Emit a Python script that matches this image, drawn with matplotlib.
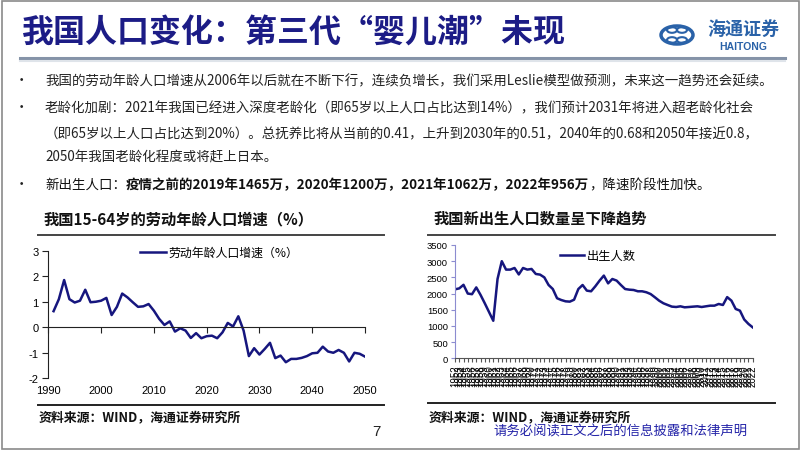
import numpy as np
import matplotlib
matplotlib.use("Agg")
import matplotlib.pyplot as plt
from matplotlib.patches import Rectangle, Circle
from matplotlib.lines import Line2D

plt.rcParams['font.family'] = ['Noto Sans CJK SC', 'DejaVu Sans']
plt.rcParams['axes.unicode_minus'] = False

# ---- data ----
# working-age (15-64) population growth, %
labor_years = list(range(1991, 2051))
labor_growth = [0.63, 1.10, 1.85, 1.10, 0.97, 1.04, 1.47, 0.98, 1.00, 1.04,
                1.15, 0.48, 0.80, 1.32, 1.17, 0.98, 0.80, 0.82, 0.91, 0.65,
                0.33, 0.09, 0.23, -0.17, -0.04, -0.13, -0.42, -0.23, -0.43, -0.35,
                -0.33, -0.43, -0.20, 0.17, 0.03, 0.43, -0.13, -1.13, -0.82, -1.07,
                -0.85, -0.61, -1.21, -1.11, -1.37, -1.24, -1.24, -1.20, -1.13, -1.02,
                -1.00, -0.76, -0.95, -1.00, -0.89, -1.00, -1.34, -1.00, -1.04, -1.15]

# births, 10k persons
birth_years = list(range(1952, 2023))
births = [2130, 2160, 2270, 2000, 1980, 2190, 1960, 1700, 1430, 1160,
          2450, 3000, 2740, 2740, 2790, 2590, 2790, 2740, 2760, 2605,
          2585, 2500, 2265, 2140, 1855, 1800, 1760, 1750, 1810, 2140,
          2265, 2090, 2070, 2225, 2400, 2555, 2315, 2450, 2400, 2265,
          2140, 2120, 2110, 2070, 2070, 2040, 1985, 1885, 1780, 1700,
          1647, 1596, 1585, 1606, 1575, 1585, 1596, 1606, 1585, 1606,
          1626, 1626, 1678, 1647, 1890, 1781, 1524, 1472, 1200, 1062, 956]

title = '我国人口变化：第三代“婴儿潮”未现'
bullets = [
    ['我国的劳动年龄人口增速从2006年以后就在不断下行，连续负增长，我们采用Leslie模型做预测，未来这一趋势还会延续。'],
    ['老龄化加剧：2021年我国已经进入深度老龄化（即65岁以上人口占比达到14%），我们预计2031年将进入超老龄化社会',
     '（即65岁以上人口占比达到20%）。总抚养比将从当前的0.41，上升到2030年的0.51，2040年的0.68和2050年接近0.8，',
     '2050年我国老龄化程度或将赶上日本。'],
]
bullet3 = [('新出生人口：', 'normal'),
           ('疫情之前的2019年1465万，2020年1200万，2021年1062万，2022年956万', 'bold'),
           ('，降速阶段性加快。', 'normal')]

W, H = 802, 452
NAVY = '#16167e'
TITLE_BLUE = '#1c1c86'


def fx(x):
    return x / W


def fy(y):
    return 1 - y / H


fig = plt.figure(figsize=(W / 100, H / 100), dpi=100)
fig.patch.set_facecolor('white')

# slide frame
fig.add_artist(Rectangle((fx(1.5), fy(449.5)), fx(797), (447.5) / H, transform=fig.transFigure,
                         fill=False, edgecolor='#8a8a8a', lw=1.2))

# title + header rule
fig.text(fx(22), fy(34), title, fontsize=23, fontweight='bold', color=TITLE_BLUE, va='center')
fig.add_artist(Line2D([fx(20), fx(785)], [fy(59), fy(59)], color='#8593a8', lw=2.2))
fig.add_artist(Line2D([fx(20), fx(785)], [fy(61.5), fy(61.5)], color='#dfe4ea', lw=1.5))

# logo
logo_c = '#2a62a8'
fig.add_artist(Circle((fx(677), fy(36)), 16 / W, transform=fig.transFigure, fill=False,
                      edgecolor=logo_c, lw=2.5))
for dx, dy in [(-5, -5), (5, -5), (-5, 5), (5, 5)]:
    fig.add_artist(Circle((fx(677 + dx), fy(36 + dy)), 5 / W, transform=fig.transFigure,
                          fill=False, edgecolor=logo_c, lw=1.5))
fig.text(fx(743), fy(29), '海通证券', fontsize=13, color=logo_c, ha='center', va='center',
         fontweight='bold', style='italic')
fig.text(fx(743), fy(47), 'HAITONG', fontsize=7.5, color=logo_c, ha='center', va='center',
         fontweight='bold', family=['Liberation Sans'])

# bullets
body_fs = 9.7
line_ys = [[81], [108, 134, 158]]
for lines, ys in zip(bullets, line_ys):
    fig.text(fx(15), fy(ys[0]), '•', fontsize=body_fs, va='center', color='#222222')
    for txt, y in zip(lines, ys):
        fig.text(fx(45), fy(y), txt, fontsize=body_fs, va='center', color='#222222')

renderer = fig.canvas.get_renderer()
fig.text(fx(15), fy(185), '•', fontsize=body_fs, va='center', color='#222222')
xpos = 45
for seg, wt in bullet3:
    t = fig.text(fx(xpos), fy(185), seg, fontsize=body_fs, va='center', color='#111111', fontweight=wt)
    xpos += t.get_window_extent(renderer).width

# chart titles, rules, source notes
for x0, x1, ttl in [(38, 384, '我国15-64岁的劳动年龄人口增速（%）'), (428, 775, '我国新出生人口数量呈下降趋势')]:
    fig.text(fx(x0 + 6), fy(219), ttl, fontsize=11, fontweight='bold', va='center', color='#111111')
    fig.add_artist(Line2D([fx(x0), fx(x1)], [fy(236), fy(236)], color='#444444', lw=1.4))
fig.add_artist(Line2D([fx(38), fx(384)], [fy(406), fy(406)], color='#222222', lw=1.4))
fig.add_artist(Line2D([fx(428), fx(775)], [fy(404), fy(404)], color='#222222', lw=1.4))
fig.text(fx(39), fy(418), '资料来源：WIND，海通证券研究所', fontsize=9.3, fontweight='bold',
         va='center', color='#111111')
fig.text(fx(429), fy(418), '资料来源：WIND，海通证券研究所', fontsize=9.3, fontweight='bold',
         va='center', color='#111111')
fig.text(fx(376), fy(432), '7', fontsize=11, ha='center', va='center', color='#222222',
         family=['Liberation Sans'])
fig.text(fx(621), fy(432), '请务必阅读正文之后的信息披露和法律声明', fontsize=9.6, ha='center',
         va='center', color='#2323a8')

num_font = ['Liberation Sans', 'DejaVu Sans']

# ---- left chart ----
axL = fig.add_axes([fx(48.3), fy(379.3), (365 - 48.3) / W, (379.3 - 251.7) / H])
axL.plot(labor_years, labor_growth, color=NAVY, lw=1.8, label='劳动年龄人口增速（%）')
axL.set_xlim(1990, 2050)
axL.set_ylim(-2, 3)
axL.set_yticks(range(-2, 4))
axL.set_yticklabels([str(v) for v in range(-2, 4)], family=num_font, fontsize=8)
axL.spines['top'].set_visible(False)
axL.spines['right'].set_visible(False)
axL.spines['bottom'].set_position(('data', 0))
axL.spines['bottom'].set_color('#222222')
axL.spines['left'].set_color('#222222')
decades = list(range(1990, 2051, 10))
axL.set_xticks(decades)
axL.tick_params(axis='x', labelbottom=False, direction='out', length=4, color='#222222')
axL.tick_params(axis='y', direction='out', length=4, color='#222222', pad=3)
secL = axL.secondary_xaxis('bottom')
secL.set_xticks(decades)
secL.set_xticklabels([str(d) for d in decades], family=num_font, fontsize=8)
secL.tick_params(length=0, pad=5)
secL.spines['bottom'].set_visible(False)
axL.legend(loc='upper center', bbox_to_anchor=(0.54, 1.12), frameon=False,
           fontsize=8.6, handlelength=2.2, handletextpad=0.2)

# ---- right chart ----
axR = fig.add_axes([fx(455), fy(359.3), (752.7 - 455) / W, (359.3 - 246) / H])
axR.plot(birth_years, births, color=NAVY, lw=1.8, label='出生人数')
axR.set_xlim(1952, 2022)
axR.set_ylim(0, 3500)
axR.set_yticks(range(0, 3501, 500))
axR.set_yticklabels([str(v) for v in range(0, 3501, 500)], family=num_font, fontsize=6.8)
axR.set_xticks(birth_years)
axR.set_xticklabels([str(y) for y in birth_years], rotation=90, family=num_font, fontsize=7)
axR.spines['top'].set_visible(False)
axR.spines['right'].set_visible(False)
axR.spines['left'].set_color('#8c8cd0')
axR.spines['bottom'].set_color('#555555')
axR.tick_params(axis='x', direction='out', length=3, color='#555555', pad=1.5)
axR.tick_params(axis='y', direction='out', length=3, color='#8c8cd0', pad=2)
axR.legend(loc='upper center', bbox_to_anchor=(0.48, 1.06), frameon=False,
           fontsize=8.8, handlelength=2.0, handletextpad=0.2)

fig.savefig('out.png', dpi=100)
